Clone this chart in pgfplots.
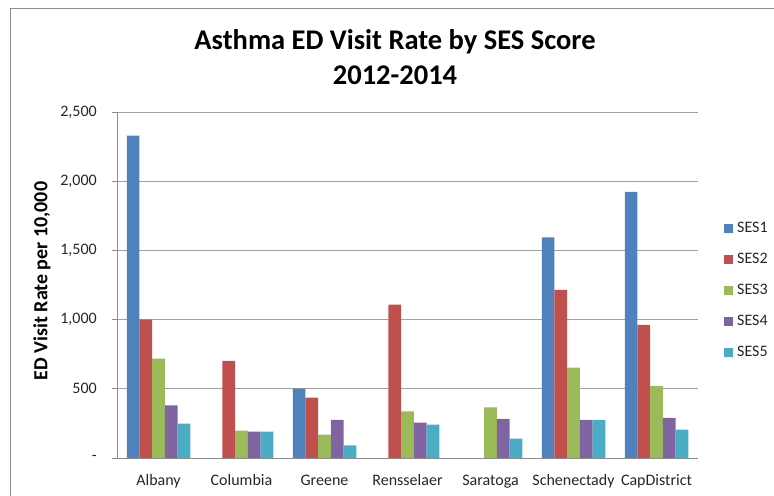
\documentclass[border=0pt]{standalone}
\usepackage{fontspec}
\setmainfont{Carlito}
\usepackage{pgfplots}
\pgfplotsset{compat=1.18}

\definecolor{sesA}{HTML}{4F81BD}
\definecolor{sesB}{HTML}{C0504D}
\definecolor{sesC}{HTML}{9BBB59}
\definecolor{sesD}{HTML}{8064A2}
\definecolor{sesE}{HTML}{4BACC6}
\definecolor{gridgray}{HTML}{A0A0A0}
\definecolor{axisgray}{HTML}{8C8C8C}
\definecolor{labelgray}{HTML}{262626}

\begin{document}
\begin{tikzpicture}[x=1bp,y=1bp]
\path[use as bounding box] (0,0) rectangle (774,496);
% chart area frame
\draw[axisgray, line width=1bp] (10,0) -- (10,487) -- (774,487);

% title
\node[anchor=base, font=\fontsize{28.5bp}{34bp}\selectfont\bfseries] at (395,446) {Asthma ED Visit Rate by SES Score};
\node[anchor=base, font=\fontsize{28.5bp}{34bp}\selectfont\bfseries] at (395,411) {2012-2014};

\begin{axis}[
  at={(117bp,38bp)}, anchor=south west,
  scale only axis, width=581bp, height=346bp,
  ybar=0pt, bar width=12.7bp,
  xmin=-0.5, xmax=6.5, ymin=0, ymax=2500,
  axis x line*=bottom, axis y line*=left,
  axis line style={axisgray, line width=0.9bp},
  xtick={0,...,6},
  xticklabels={Albany,Columbia,Greene,Rensselaer,Saratoga,Schenectady,CapDistrict},
  minor xtick={-0.5,0.5,...,6.5},
  xtick style={draw=none},
  minor x tick style={axisgray, line width=0.9bp},
  minor tick length=5bp,
  major tick length=5bp,
  ytick={0,500,1000,1500,2000,2500},
  yticklabels={-,500,{1,000},{1,500},{2,000},{2,500}},
  ytick style={axisgray, line width=0.9bp},
  tick align=outside,
  ymajorgrids,
  grid style={gridgray, line width=0.8bp},
  xticklabel style={font=\fontsize{16bp}{19bp}\selectfont, text=labelgray, anchor=base, yshift=-23bp},
  yticklabel style={font=\fontsize{16bp}{19bp}\selectfont, text=labelgray, anchor=east, inner sep=0pt, xshift=-15bp},
  ylabel={ED Visit Rate per 10,000},
  ylabel style={font=\fontsize{20bp}{24bp}\selectfont\bfseries, at={(axis description cs:-0.129,0.5116)}, anchor=center},
  legend style={at={(1.0448,0.4827)}, anchor=west, draw=none, fill=none,
    font=\fontsize{16bp}{19bp}\selectfont, text=labelgray,
    row sep=17bp, column sep=4bp, inner sep=0pt,
    nodes={inner sep=0pt, text height=11bp, text depth=3bp}},
  legend cell align=left,
  legend image code/.code={\fill[#1] (0bp,-4.5bp) rectangle (9bp,4.5bp);},
  every axis plot/.append style={draw=none},
]
\addplot[fill=sesA] coordinates {(0,2329) (2,501) (5,1594) (6,1922)};
\addplot[fill=sesB] coordinates {(0,999) (1,701) (2,436) (3,1108) (5,1214) (6,961)};
\addplot[fill=sesC] coordinates {(0,718) (1,197) (2,169) (3,337) (4,366) (5,653) (6,520)};
\addplot[fill=sesD] coordinates {(0,380) (1,190) (2,275) (3,255) (4,282) (5,275) (6,289)};
\addplot[fill=sesE] coordinates {(0,248) (1,190) (2,92) (3,241) (4,140) (5,275) (6,205)};
\legend{SES1,SES2,SES3,SES4,SES5}
\end{axis}
\end{tikzpicture}
\end{document}
